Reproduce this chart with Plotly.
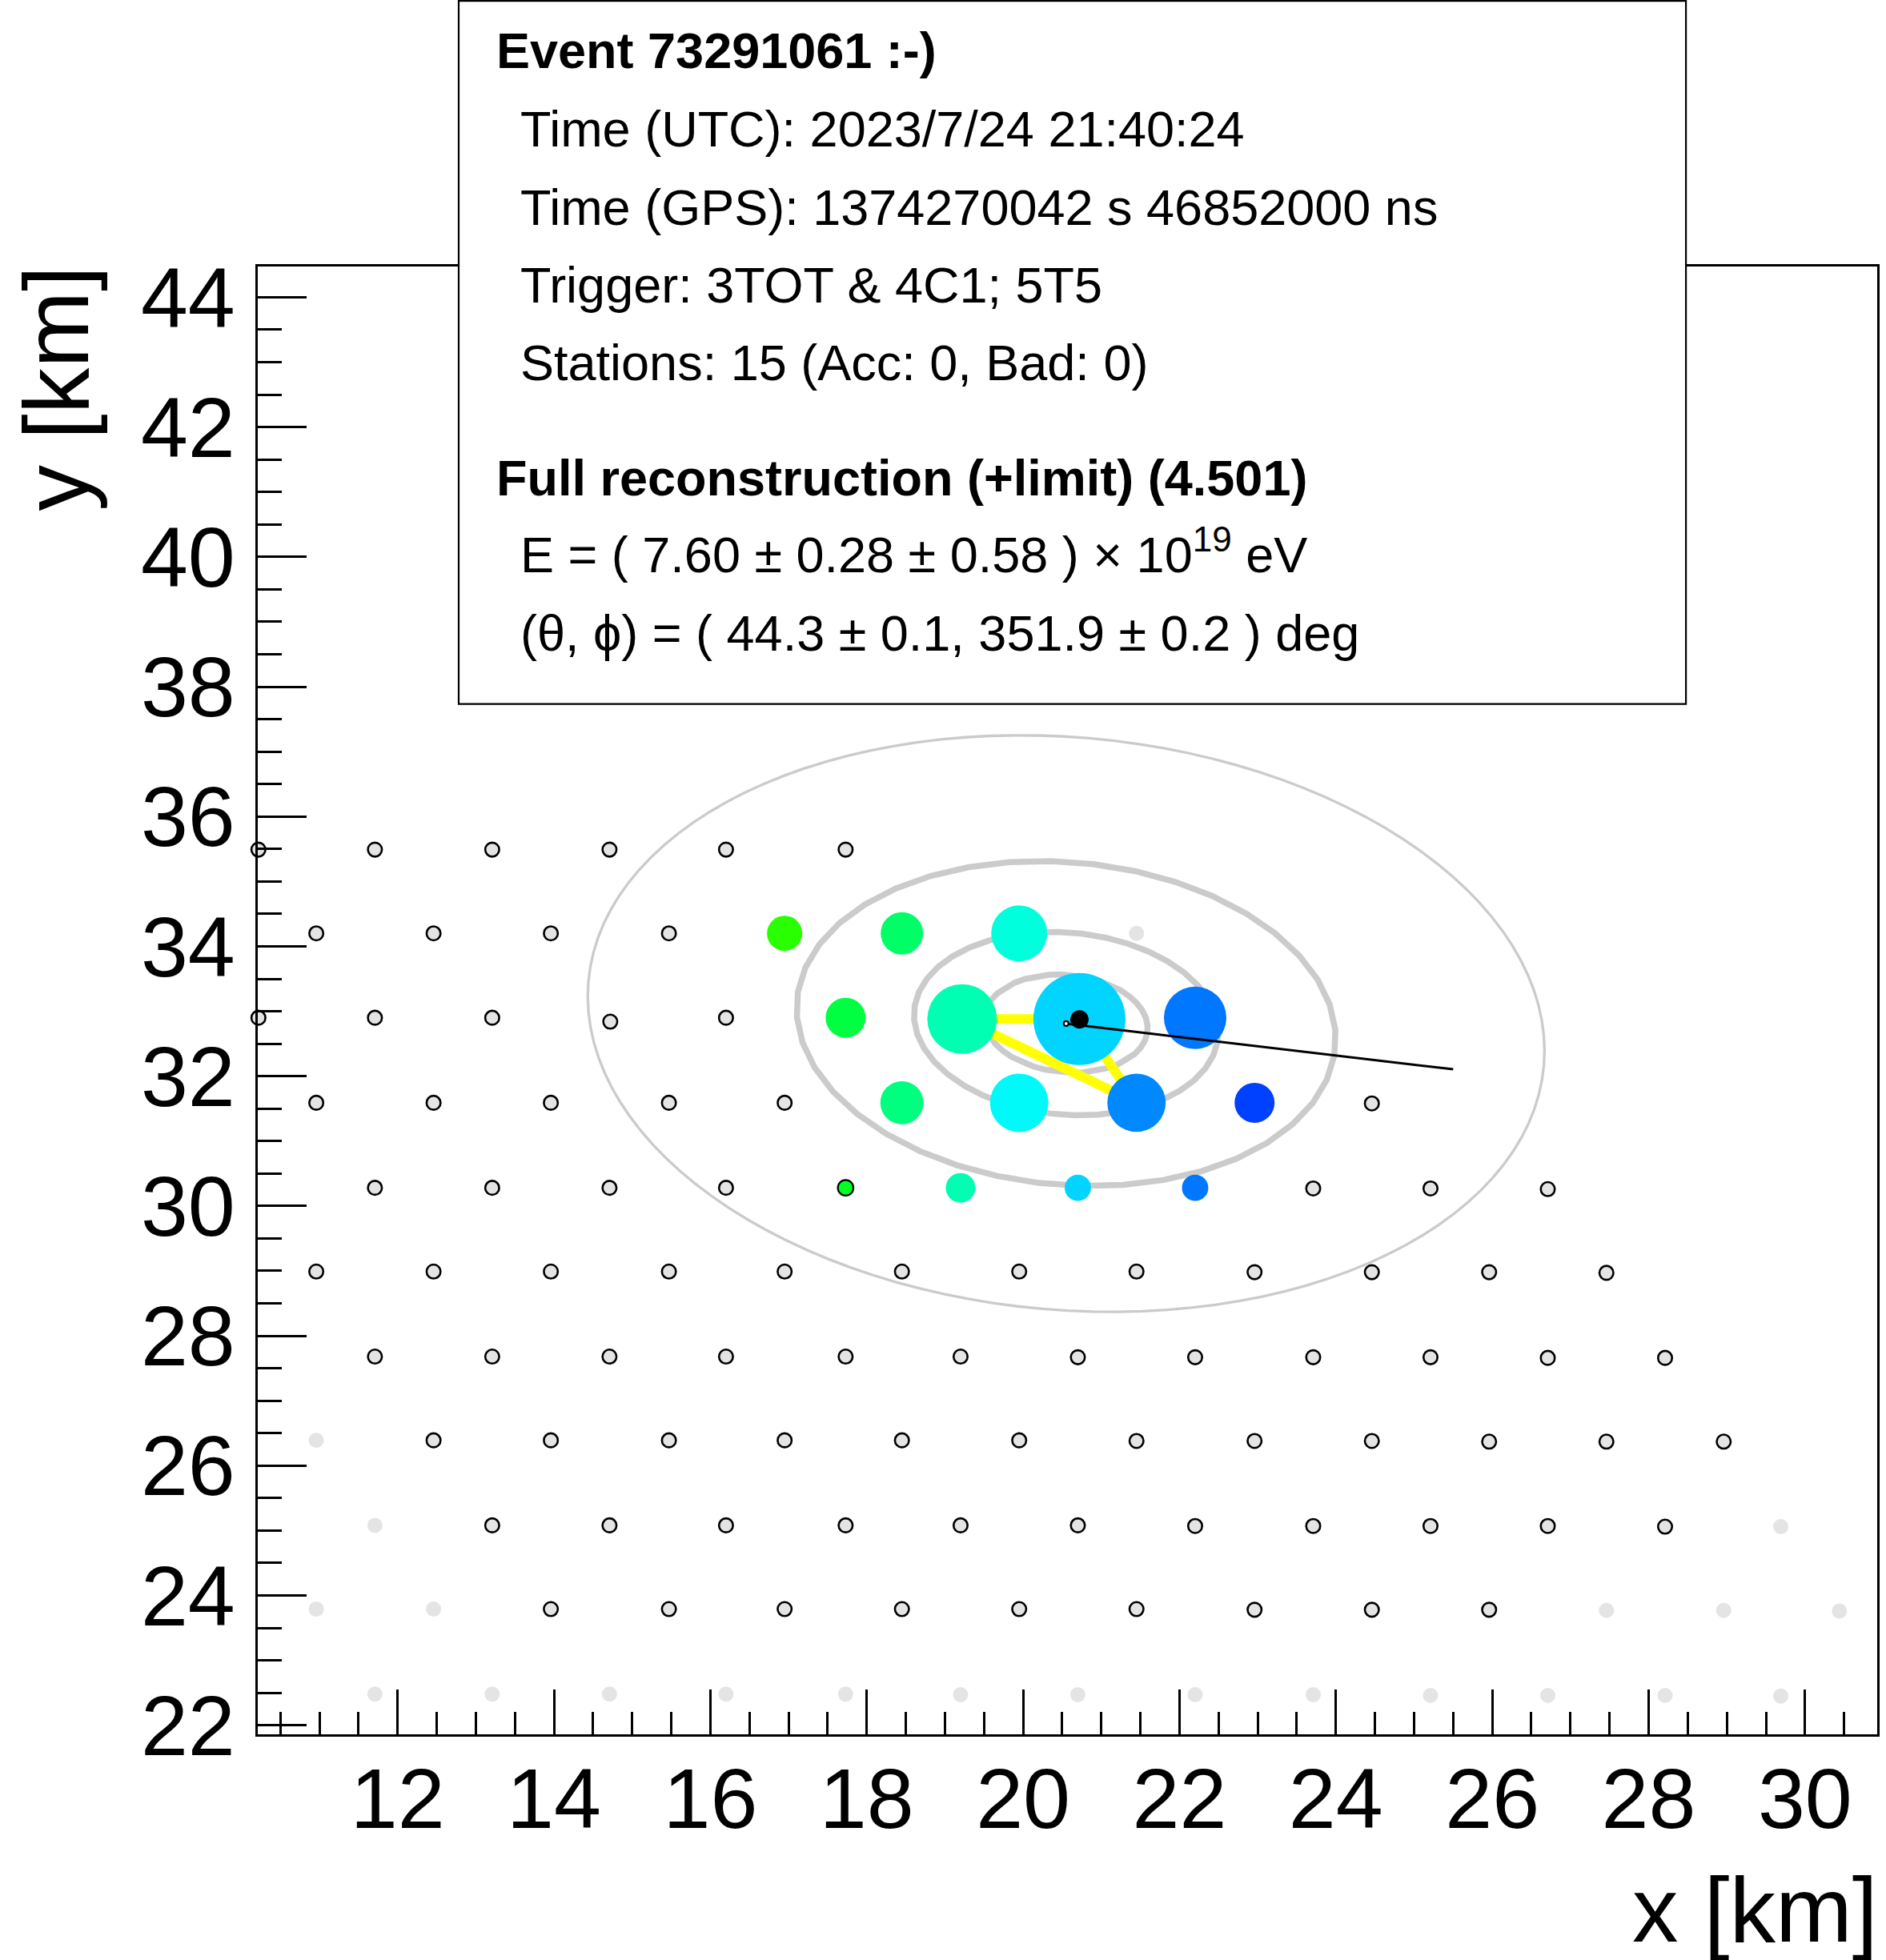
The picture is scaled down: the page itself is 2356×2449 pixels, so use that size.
import math
import colorsys
import plotly.graph_objects as go

# ---------------- figure geometry (pixels) ----------------
FIG_W, FIG_H = 2356, 2449
PLOT_L, PLOT_T, PLOT_R, PLOT_B = 322.0, 333.3, 2348.3, 2167.3
PLOT_W = PLOT_R - PLOT_L
PLOT_H = PLOT_B - PLOT_T

X_RANGE = [10.2116, 30.923]
Y_RANGE = [21.8607, 44.4735]

# ---------------- data (km) ----------------
# silent / not-triggered stations (outlined)
SILENT_X = [10.22, 11.71, 13.21, 14.71, 16.20, 17.73,
            10.96, 12.46, 13.96, 15.47,
            10.22, 11.71, 13.21, 14.72, 16.20,
            10.96, 12.46, 13.96, 15.47, 16.95, 24.46,
            11.71, 13.21, 14.71, 16.20, 23.71, 25.21, 26.71,
            10.96, 12.46, 13.96, 15.47, 16.95, 18.45, 19.95, 21.45, 22.96, 24.46, 25.96, 27.46,
            11.71, 13.21, 14.71, 16.20, 17.73, 19.20, 20.70, 22.20, 23.71, 25.21, 26.71, 28.21,
            12.46, 13.96, 15.47, 16.95, 18.45, 19.95, 21.45, 22.96, 24.46, 25.96, 27.46, 28.96,
            13.21, 14.71, 16.20, 17.73, 19.20, 20.70, 22.20, 23.71, 25.21, 26.71, 28.21,
            13.96, 15.47, 16.95, 18.45, 19.95, 21.45, 22.96, 24.46, 25.96]
SILENT_Y = [35.49, 35.49, 35.49, 35.49, 35.49, 35.49,
            34.20, 34.20, 34.20, 34.20,
            32.90, 32.90, 32.90, 32.84, 32.90,
            31.59, 31.59, 31.59, 31.59, 31.59, 31.58,
            30.28, 30.28, 30.28, 30.28, 30.27, 30.27, 30.26,
            28.99, 28.99, 28.99, 28.99, 28.99, 28.99, 28.99, 28.99, 28.98, 28.98, 28.98, 28.97,
            27.68, 27.68, 27.68, 27.68, 27.68, 27.68, 27.67, 27.67, 27.67, 27.67, 27.66, 27.66,
            26.39, 26.39, 26.39, 26.39, 26.39, 26.39, 26.38, 26.38, 26.38, 26.37, 26.37, 26.37,
            25.08, 25.08, 25.08, 25.08, 25.08, 25.08, 25.07, 25.07, 25.07, 25.07, 25.06,
            23.79, 23.79, 23.79, 23.79, 23.79, 23.79, 23.78, 23.78, 23.78]

# inactive stations (faint)
INACTIVE_X = [21.45, 10.96, 11.71, 29.69,
              10.96, 12.46, 27.46, 28.96, 30.44,
              11.71, 13.21, 14.71, 16.20, 17.73, 19.20, 20.70, 22.20, 23.71, 25.21, 26.71, 28.21, 29.69]
INACTIVE_Y = [34.20, 26.39, 25.08, 25.06,
              23.79, 23.79, 23.77, 23.77, 23.76,
              22.48, 22.48, 22.48, 22.48, 22.48, 22.47, 22.47, 22.47, 22.47, 22.46, 22.46, 22.46, 22.45]

# triggered stations of the event
HIT_X = [16.95, 18.45, 19.95, 17.73, 19.22, 20.72, 22.20, 18.45, 19.95, 21.45, 22.96, 17.73, 19.20, 20.70, 22.20]
HIT_Y = [34.20, 34.20, 34.20, 32.90, 32.88, 32.88, 32.90, 31.59, 31.59, 31.59, 31.59, 30.28, 30.28, 30.28, 30.28]
HIT_SIGNAL_VEM = [8.9, 15.3, 42.8, 12.7, 120.0, 654.0, 69.5, 16.2, 51.4, 51.0, 12.7, 2.0, 5.8, 4.5, 4.5]
HIT_TIME_NS = [14700, 10350, 6780, 11500, 8050, 4470, 1660, 9590, 5750, 2170, 0, 12400, 8050, 4470, 1660]
HIT_OUTLINED = [0, 0, 0, 0, 0, 0, 0, 0, 0, 0, 0, 1, 0, 0, 0]
TRIPLET = [4, 5, 9]          # indices of the T3 seed stations

# reconstruction
CORE_X, CORE_Y = 20.55, 32.81
BARY_X, BARY_Y = 20.72, 32.875
THETA_DEG, PHI_DEG = 44.3, 351.9
AXIS_LEN_KM = 5.0
RING_RADII_KM = [0.75, 1.40, 2.48, 4.40]

# ---------------- helpers ----------------
def paper_x(px):
    return (px - PLOT_L) / PLOT_W


def paper_y(py):
    return (PLOT_B - py) / PLOT_H


def hue_scale(n=24, h0=225.0, h1=110.0):
    out = []
    for i in range(n + 1):
        f = i / n
        r, g, b = colorsys.hsv_to_rgb((h0 + (h1 - h0) * f) / 360.0, 1, 1)
        out.append([f, "rgb(%d,%d,%d)" % (round(r * 255), round(g * 255), round(b * 255))])
    return out


fig = go.Figure()

# ellipses (circles in the shower plane projected on the ground)
cos_t = math.cos(math.radians(THETA_DEG))
phi = math.radians(PHI_DEG)
for k, r in enumerate(RING_RADII_KM):
    a, b = r / cos_t, r
    xs, ys = [], []
    nseg = 40 if k < 3 else 120
    for i in range(nseg + 1):
        t = 2 * math.pi * i / nseg
        u, v = a * math.cos(t), b * math.sin(t)
        xs.append(CORE_X + u * math.cos(phi) - v * math.sin(phi))
        ys.append(CORE_Y + u * math.sin(phi) + v * math.cos(phi))
    fig.add_trace(go.Scatter(x=xs, y=ys, mode="lines",
                             line=dict(color="#cbcbcb", width=3.3 if k == 3 else 7.5),
                             hoverinfo="skip", cliponaxis=False))

# triplet lines
tri = TRIPLET + [TRIPLET[0]]
fig.add_trace(go.Scatter(x=[HIT_X[i] for i in tri], y=[HIT_Y[i] for i in tri], mode="lines",
                         line=dict(color="#ffff00", width=12), hoverinfo="skip"))

# silent and inactive stations
fig.add_trace(go.Scatter(x=SILENT_X, y=SILENT_Y, mode="markers", cliponaxis=False,
                         marker=dict(size=17.5, color="#e4e4e4", opacity=1,
                                     line=dict(color="black", width=2.6))))
fig.add_trace(go.Scatter(x=INACTIVE_X, y=INACTIVE_Y, mode="markers", cliponaxis=False,
                         marker=dict(size=19, color="#e4e4e4", opacity=1, line=dict(width=0))))

# triggered stations: size ~ log(signal), colour ~ time
sizes = [8 + 38 * math.log10(s) for s in HIT_SIGNAL_VEM]
fig.add_trace(go.Scatter(
    x=HIT_X, y=HIT_Y, mode="markers", cliponaxis=False,
    marker=dict(size=sizes, color=HIT_TIME_NS, colorscale=hue_scale(), cmin=0,
                cmax=max(HIT_TIME_NS), showscale=False, opacity=1,
                line=dict(color="black", width=[2.2 if o else 0 for o in HIT_OUTLINED]))))

# shower axis
ax_x = [CORE_X, CORE_X + AXIS_LEN_KM * math.cos(phi)]
ax_y = [CORE_Y, CORE_Y + AXIS_LEN_KM * math.sin(phi)]
fig.add_trace(go.Scatter(x=ax_x, y=ax_y, mode="lines", line=dict(color="black", width=3)))
fig.add_trace(go.Scatter(x=[BARY_X], y=[BARY_Y], mode="markers",
                         marker=dict(size=23, color="black", opacity=1)))
fig.add_trace(go.Scatter(x=[CORE_X], y=[CORE_Y], mode="markers",
                         marker=dict(size=6, color="white", opacity=1,
                                     line=dict(color="black", width=2.2))))

FONT = "Liberation Sans, Arial, Helvetica, sans-serif"
TICK_FONT = dict(family=FONT, size=106, color="black")

axis_common = dict(showgrid=False, zeroline=False, showline=True, linecolor="black",
                   linewidth=3, mirror=True, ticks="inside", tickcolor="black",
                   tickwidth=2.6, dtick=2, tick0=0, tickfont=TICK_FONT)

fig.update_xaxes(range=X_RANGE, ticklen=56, ticklabelstandoff=-13,
                 minor=dict(dtick=0.5, tick0=0, ticks="inside", ticklen=28,
                            tickwidth=2.6, tickcolor="black"), **axis_common)
fig.update_yaxes(range=Y_RANGE, ticklen=61, ticklabelstandoff=4,
                 minor=dict(dtick=0.5, tick0=0, ticks="inside", ticklen=30,
                            tickwidth=2.6, tickcolor="black"), **axis_common)

# info box
BOX = dict(x0=573.4, x1=2109.0, y0=1.5, y1=880.0)
fig.add_shape(type="rect", xref="paper", yref="paper", layer="above",
              x0=paper_x(BOX["x0"]), x1=paper_x(BOX["x1"]),
              y0=paper_y(BOX["y1"]), y1=paper_y(BOX["y0"]),
              line=dict(color="black", width=2.2), fillcolor="white")

INFO_LINES = [
    ("<b>Event 73291061 :-)</b>", 618, 63),
    ("Time (UTC): 2023/7/24 21:40:24", 649, 161),
    ("Time (GPS): 1374270042 s 46852000 ns", 649, 259),
    ("Trigger: 3TOT &amp; 4C1; 5T5", 649, 356),
    ("Stations: 15 (Acc: 0, Bad: 0)", 649, 453),
    ("<b>Full reconstruction (+limit) (4.501)</b>", 618, 597),
    ("E = ( 7.60 \u00b1 0.28 \u00b1 0.58 ) \u00d7 10<sup>19</sup> eV", 649, 689),
    ("(\u03b8, \u03d5) = ( 44.3 \u00b1 0.1, 351.9 \u00b1 0.2 ) deg", 649, 791),
]
for txt, px, py in INFO_LINES:
    fig.add_annotation(text=txt, xref="paper", yref="paper", x=paper_x(px), y=paper_y(py),
                       xanchor="left", yanchor="middle", showarrow=False,
                       font=dict(family=FONT, size=63, color="black"))

# axis titles
fig.add_annotation(text="x [km]", xref="paper", yref="paper", x=paper_x(2351), y=paper_y(2386),
                   xanchor="right", yanchor="middle", showarrow=False,
                   font=dict(family=FONT, size=115, color="black"))
fig.add_annotation(text="y [km]", xref="paper", yref="paper", x=paper_x(70), y=paper_y(330),
                   xanchor="center", yanchor="top", textangle=-90, showarrow=False,
                   font=dict(family=FONT, size=115, color="black"))

fig.update_layout(width=FIG_W, height=FIG_H, showlegend=False,
                  paper_bgcolor="white", plot_bgcolor="white",
                  margin=dict(l=PLOT_L, r=FIG_W - PLOT_R, t=PLOT_T, b=FIG_H - PLOT_B, pad=0))

fig.write_html("out.html")
